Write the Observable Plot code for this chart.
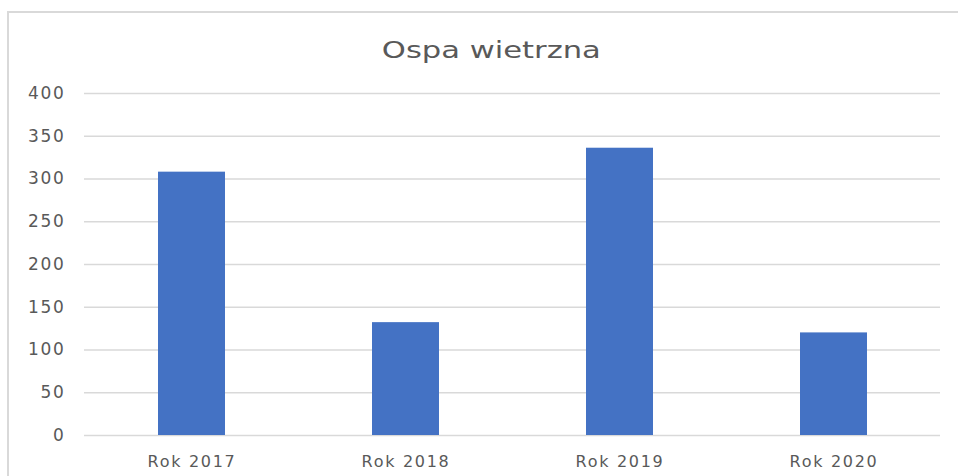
<!DOCTYPE html>
<html>
<head>
<meta charset="utf-8">
<script src="https://cdn.jsdelivr.net/npm/d3@7"></script>
<script src="https://cdn.jsdelivr.net/npm/@observablehq/plot@0.6"></script>
<style>
  body { margin: 0; background: #fff; overflow: hidden; }
  #frame { position: absolute; left: 7px; top: 11px; width: 1100px; height: 600px;
           border-left: 2px solid #d9d9d9; border-top: 2px solid #d9d9d9; pointer-events: none; }
  #title { height: 73px; box-sizing: border-box; padding-top: 37px; margin-left: 7px; width: 968px;
           text-align: center; font-family: "DejaVu Sans"; font-size: 23px; line-height: 27px; color: #595959; }
  #title span { display: inline-block; transform: scaleX(1.33); }
  #chart svg text { letter-spacing: 1.7px; }
</style>
</head>
<body>
<div id="frame"></div>
<div id="title"><span>Ospa wietrzna</span></div>
<div id="chart"></div>
<script>
const categories = ["Rok 2017", "Rok 2018", "Rok 2019", "Rok 2020"];
const values = [308, 132, 336, 120];
const yTicks = [0, 50, 100, 150, 200, 250, 300, 350, 400];

const data = categories.map((c, i) => ({category: c, value: values[i]}));

const chart = Plot.plot({
  width: 958,
  height: 403,
  marginLeft: 84,
  marginRight: 18,
  marginTop: 20,
  marginBottom: 41,
  style: {fontFamily: "DejaVu Sans", color: "#595959", background: "transparent"},
  x: {type: "band", domain: categories, paddingInner: 0.687, paddingOuter: 0.3435},
  y: {domain: [0, 400]},
  marks: [
    Plot.ruleY(yTicks, {stroke: "#d9d9d9", strokeWidth: 1.5}),
    Plot.barY(data, {x: "category", y: "value", fill: "#4472c4"}),
    Plot.axisY({ticks: yTicks, tickSize: 0, tickPadding: 19, fontSize: 17, label: null}),
    Plot.axisX({tickSize: 0, tickPadding: 20, fontSize: 16, label: null})
  ]
});
document.getElementById("chart").appendChild(chart);
</script>
</body>
</html>
